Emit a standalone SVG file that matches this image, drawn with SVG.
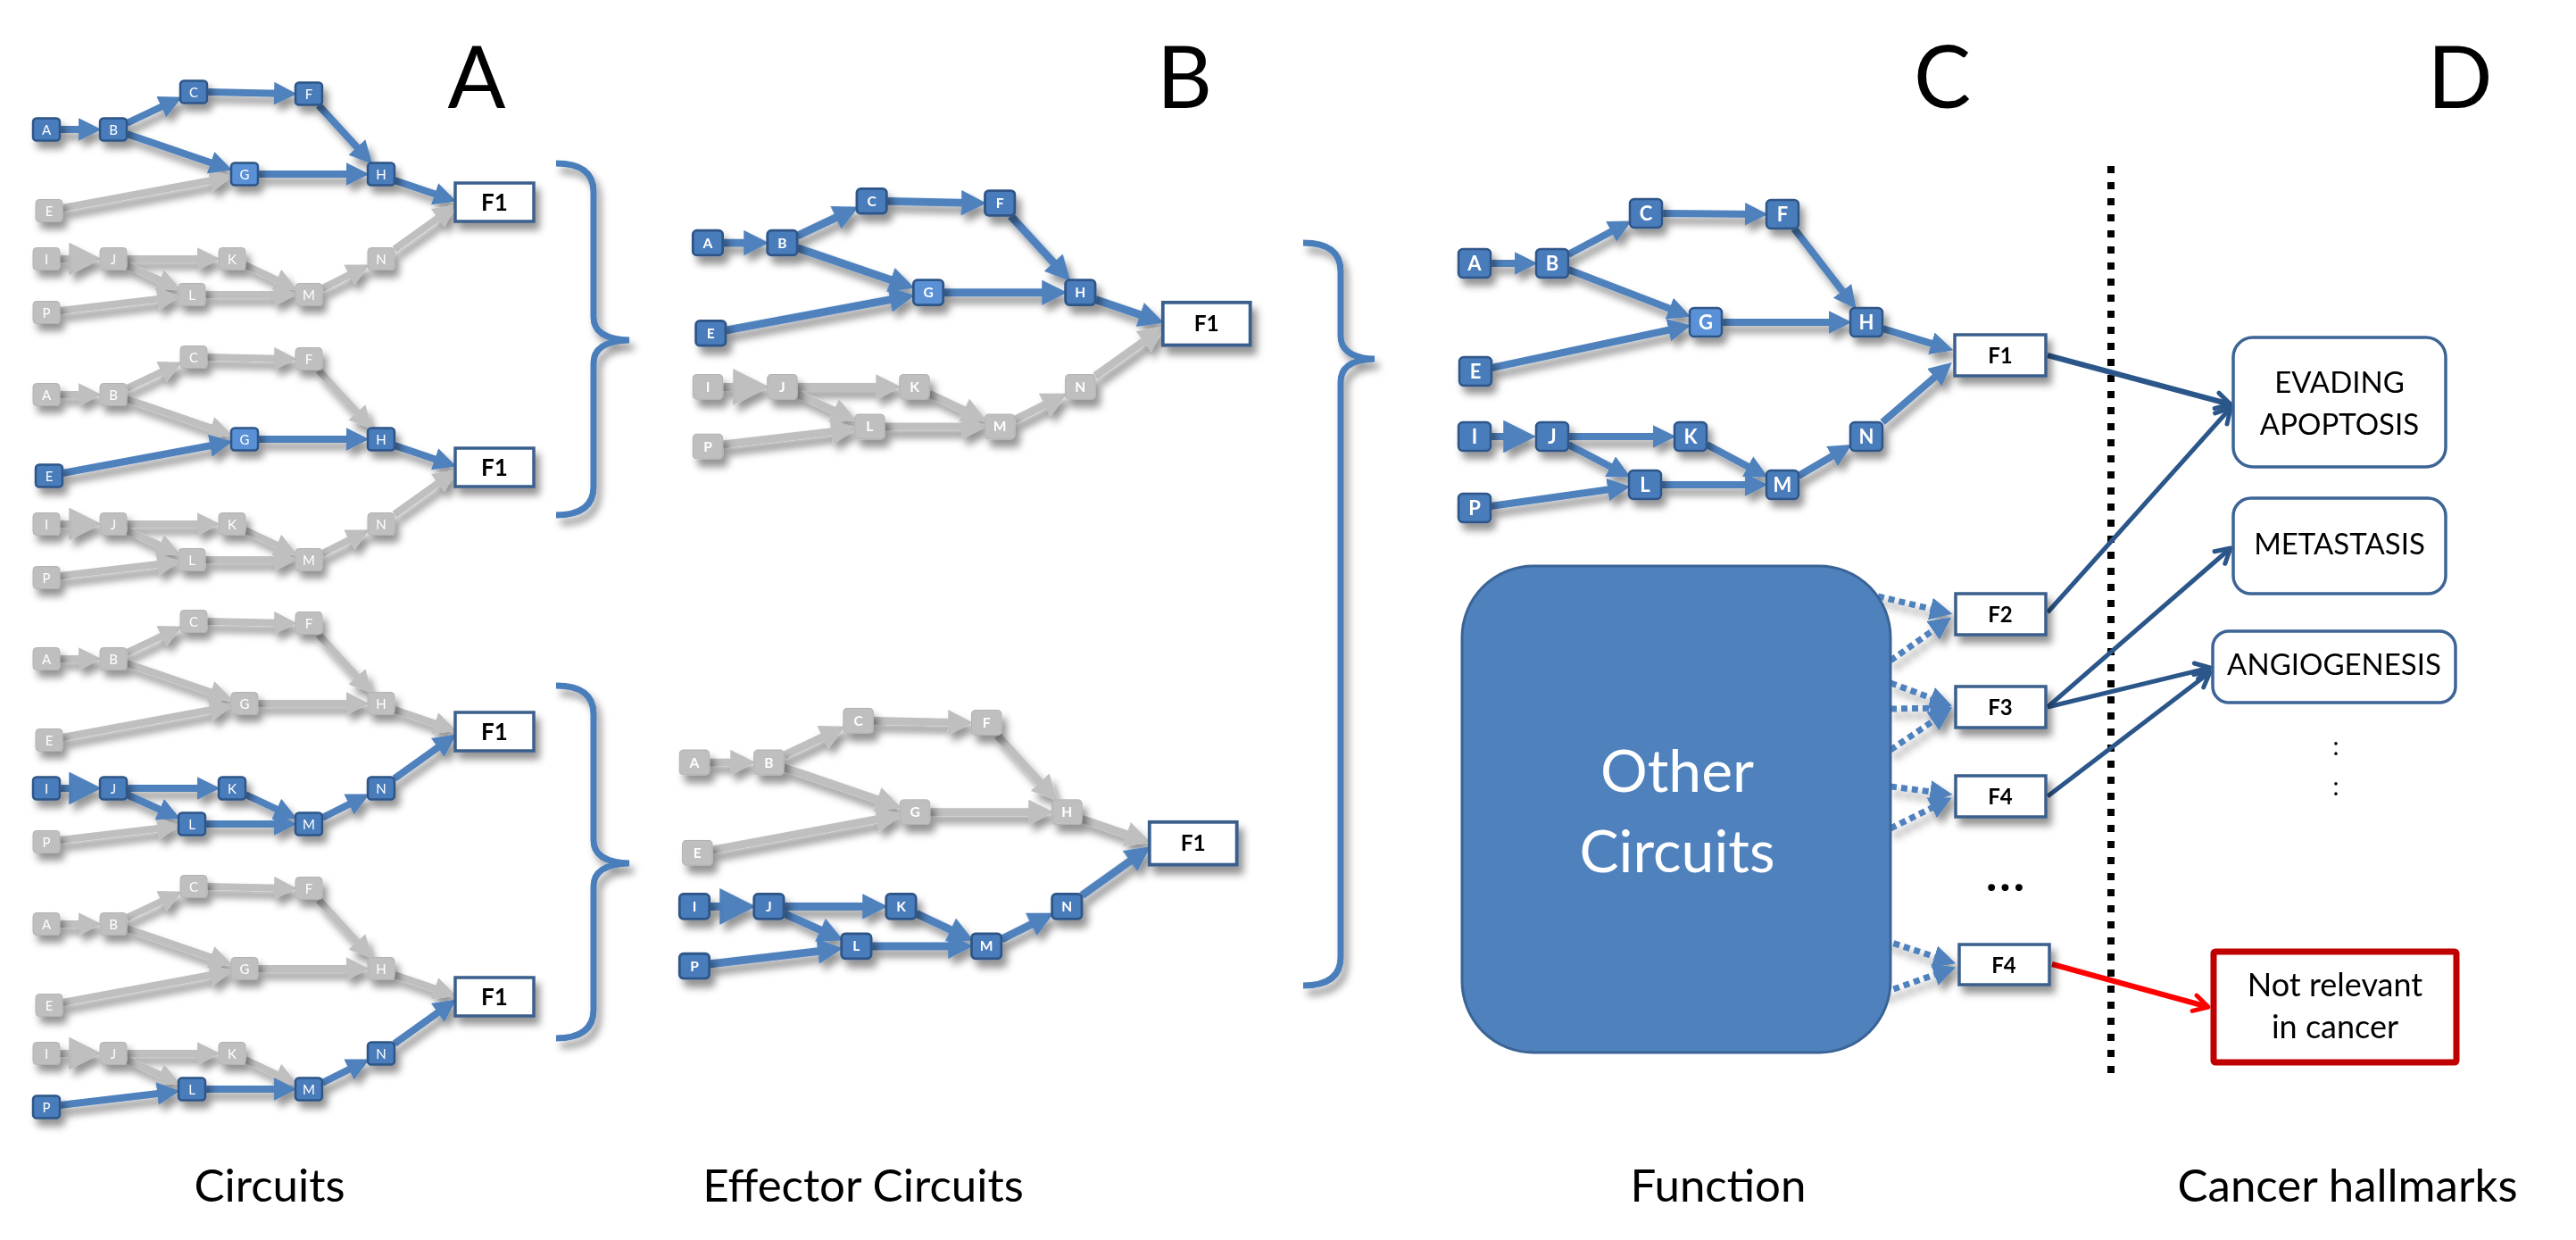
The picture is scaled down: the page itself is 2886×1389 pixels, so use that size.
<svg xmlns="http://www.w3.org/2000/svg" width="2886" height="1389" viewBox="0 0 2886 1389">
<style>
text{font-family:Lato,"Open Sans","Liberation Sans",sans-serif}
.n text{fill:#fff;stroke:none;text-anchor:middle}
.nb{fill:#4a7bbb;stroke:#2d5587;stroke-width:2.5}
.nl{fill:#5a91d6;stroke:#2d5587;stroke-width:2.5}
.ng{fill:#bfbfbf;stroke:#b3b3b3;stroke-width:1}
.f rect{fill:#fff;stroke:#3b5f8c;stroke-width:3.5}
.f text{fill:#000;stroke:none;text-anchor:middle;font-weight:700}
.ta text{font-size:15px}
.ta .f text{font-size:26px}
.tb text{font-size:14px;font-weight:700}
.tb .f text{font-size:22px}
.tc text{font-size:22px;font-weight:700}
.tc .f text{font-size:24px}
.cg line{stroke:#bfbfbf;stroke-width:8;marker-end:url(#mg)}
.cb line{stroke:#4f81bd;stroke-width:8;marker-end:url(#mb)}
.cg line.big{marker-end:url(#mgB)}
.cb line.big{marker-end:url(#mbB)}
.cd line{stroke:#4f81bd;stroke-width:7;stroke-dasharray:7 5;marker-end:url(#md)}
.ch line{stroke:#2b5689;stroke-width:5;marker-end:url(#mo)}
.cr line{stroke:#ff0000;stroke-width:6;marker-end:url(#mr)}
.brace{fill:none;stroke:#4a7ebb;stroke-width:7}
.hm rect{fill:#fff;stroke:#3d6496;stroke-width:3.5}
.hm text{fill:#000;font-size:33px;text-anchor:middle}
.title{font-size:96px;fill:#000;text-anchor:middle}
.label{font-size:51px;fill:#000;text-anchor:middle}
</style>
<defs>
<filter id="sh" x="-20%" y="-20%" width="140%" height="140%"><feDropShadow dx="5" dy="8" stdDeviation="4" flood-color="#000" flood-opacity="0.42"/></filter>
<marker id="mb" viewBox="0 0 10 10" refX="7" refY="5" markerWidth="3.2" markerHeight="3.2" orient="auto"><path d="M0,0L10,5L0,10z" fill="#4f81bd"/></marker>
<marker id="mg" viewBox="0 0 10 10" refX="7" refY="5" markerWidth="3.2" markerHeight="3.2" orient="auto"><path d="M0,0L10,5L0,10z" fill="#bfbfbf"/></marker>
<marker id="mbB" viewBox="0 0 10 10" refX="7" refY="5" markerWidth="4.6" markerHeight="4.6" orient="auto"><path d="M0,0L10,5L0,10z" fill="#4f81bd"/></marker>
<marker id="mgB" viewBox="0 0 10 10" refX="7" refY="5" markerWidth="4.6" markerHeight="4.6" orient="auto"><path d="M0,0L10,5L0,10z" fill="#bfbfbf"/></marker>
<marker id="md" viewBox="0 0 10 10" refX="7" refY="5" markerWidth="3.6" markerHeight="3.6" orient="auto"><path d="M0,0L10,5L0,10z" fill="#4f81bd"/></marker>
<marker id="mo" viewBox="0 0 24 24" refX="21" refY="12" markerWidth="24" markerHeight="24" orient="auto" markerUnits="userSpaceOnUse"><path d="M5,3L21,12L5,21" fill="none" stroke="#2b5689" stroke-width="5" stroke-linecap="round" stroke-linejoin="round"/></marker>
<marker id="mr" viewBox="0 0 24 24" refX="21" refY="12" markerWidth="24" markerHeight="24" orient="auto" markerUnits="userSpaceOnUse"><path d="M5,3L21,12L5,21" fill="none" stroke="#ff0000" stroke-width="5" stroke-linecap="round" stroke-linejoin="round"/></marker>
<rect id="na" x="-15" y="-12.5" width="30" height="25" rx="4"/>
<rect id="nc" x="-18" y="-16" width="36" height="32" rx="5"/>
</defs>
<rect width="2886" height="1389" fill="#fff"/>

<g id="titles">
<text class="title" x="534" y="121">A</text>
<text class="title" x="1327" y="121">B</text>
<text class="title" x="2176" y="121">C</text>
<text class="title" x="2756" y="121">D</text>
<text class="label" x="302" y="1346">Circuits</text>
<text class="label" x="967" y="1346">Effector Circuits</text>
<text class="label" x="1925" y="1346">Function</text>
<text class="label" x="2630" y="1346">Cancer hallmarks</text>
</g>

<g id="braces" filter="url(#sh)">
<path class="brace" d="M623,183 Q665,183 665,215 L665,355 Q665,380 705,381 Q665,382 665,407 L665,545 Q665,577 623,577"/>
<path class="brace" d="M623,768 Q665,768 665,800 L665,941 Q665,966 705,967 Q665,968 665,993 L665,1131 Q665,1163 623,1163"/>
<path class="brace" d="M1460,272 Q1502,272 1502,304 L1502,376 Q1502,401 1540,402 Q1502,403 1502,428 L1502,1072 Q1502,1104 1460,1104"/>
</g>

<line id="divider" x1="2365" y1="186" x2="2365" y2="1205" stroke="#000" stroke-width="8" stroke-dasharray="8 10"/>

<g id="connectors">
<g filter="url(#sh)">
<!-- A1 -->
<g>
<g class="cg"><line x1="70" y1="233" x2="253" y2="199"/><line class="big" x1="67" y1="290" x2="103" y2="290"/><line x1="142" y1="290" x2="239" y2="290"/><line x1="142" y1="297" x2="195" y2="321"/><line x1="275" y1="297" x2="326" y2="321"/><line x1="230" y1="330" x2="325" y2="330"/><line x1="361" y1="323" x2="407" y2="300"/><line x1="442" y1="279" x2="505" y2="234"/><line x1="67" y1="348" x2="194" y2="333"/></g>
<g class="cb"><line x1="67" y1="145" x2="106" y2="145"/><line x1="142" y1="138" x2="197" y2="112"/><line x1="232" y1="103" x2="325" y2="105"/><line x1="357" y1="118" x2="412" y2="178"/><line x1="142" y1="150" x2="253" y2="188"/><line x1="289" y1="195" x2="406" y2="195"/><line x1="442" y1="202" x2="504" y2="223"/></g>
</g>
<!-- A2 -->
<g transform="translate(0,297)">
<g class="cg"><line x1="67" y1="145" x2="106" y2="145"/><line x1="142" y1="138" x2="197" y2="112"/><line x1="232" y1="103" x2="325" y2="105"/><line x1="357" y1="118" x2="412" y2="178"/><line x1="142" y1="150" x2="253" y2="188"/><line class="big" x1="67" y1="290" x2="103" y2="290"/><line x1="142" y1="290" x2="239" y2="290"/><line x1="142" y1="297" x2="195" y2="321"/><line x1="275" y1="297" x2="326" y2="321"/><line x1="230" y1="330" x2="325" y2="330"/><line x1="361" y1="323" x2="407" y2="300"/><line x1="442" y1="279" x2="505" y2="234"/><line x1="67" y1="348" x2="194" y2="333"/></g>
<g class="cb"><line x1="70" y1="233" x2="253" y2="199"/><line x1="289" y1="195" x2="406" y2="195"/><line x1="442" y1="202" x2="504" y2="223"/></g>
</g>
<!-- A3 -->
<g transform="translate(0,593)">
<g class="cg"><line x1="67" y1="145" x2="106" y2="145"/><line x1="142" y1="138" x2="197" y2="112"/><line x1="232" y1="103" x2="325" y2="105"/><line x1="357" y1="118" x2="412" y2="178"/><line x1="142" y1="150" x2="253" y2="188"/><line x1="70" y1="233" x2="253" y2="199"/><line x1="289" y1="195" x2="406" y2="195"/><line x1="442" y1="202" x2="504" y2="223"/><line x1="67" y1="348" x2="194" y2="333"/></g>
<g class="cb"><line class="big" x1="67" y1="290" x2="103" y2="290"/><line x1="142" y1="290" x2="239" y2="290"/><line x1="142" y1="297" x2="195" y2="321"/><line x1="275" y1="297" x2="326" y2="321"/><line x1="230" y1="330" x2="325" y2="330"/><line x1="361" y1="323" x2="407" y2="300"/><line x1="442" y1="279" x2="505" y2="234"/></g>
</g>
<!-- A4 -->
<g transform="translate(0,890)">
<g class="cg"><line x1="67" y1="145" x2="106" y2="145"/><line x1="142" y1="138" x2="197" y2="112"/><line x1="232" y1="103" x2="325" y2="105"/><line x1="357" y1="118" x2="412" y2="178"/><line x1="142" y1="150" x2="253" y2="188"/><line x1="70" y1="233" x2="253" y2="199"/><line x1="289" y1="195" x2="406" y2="195"/><line x1="442" y1="202" x2="504" y2="223"/><line class="big" x1="67" y1="290" x2="103" y2="290"/><line x1="142" y1="290" x2="239" y2="290"/><line x1="142" y1="297" x2="195" y2="321"/><line x1="275" y1="297" x2="326" y2="321"/></g>
<g class="cb"><line x1="67" y1="348" x2="194" y2="333"/><line x1="230" y1="330" x2="325" y2="330"/><line x1="361" y1="323" x2="407" y2="300"/><line x1="442" y1="279" x2="505" y2="234"/></g>
</g>
<!-- B1 -->
<g transform="translate(735.1,110.6) scale(1.113)">
<g class="cg"><line class="big" x1="67" y1="290" x2="103" y2="290"/><line x1="142" y1="290" x2="239" y2="290"/><line x1="142" y1="297" x2="195" y2="321"/><line x1="275" y1="297" x2="326" y2="321"/><line x1="230" y1="330" x2="325" y2="330"/><line x1="361" y1="323" x2="407" y2="300"/><line x1="442" y1="279" x2="505" y2="234"/><line x1="67" y1="348" x2="194" y2="333"/></g>
<g class="cb"><line x1="67" y1="145" x2="106" y2="145"/><line x1="142" y1="138" x2="197" y2="112"/><line x1="232" y1="103" x2="325" y2="105"/><line x1="357" y1="118" x2="412" y2="178"/><line x1="142" y1="150" x2="253" y2="188"/><line x1="70" y1="233" x2="253" y2="199"/><line x1="289" y1="195" x2="406" y2="195"/><line x1="442" y1="202" x2="504" y2="223"/></g>
</g>
<!-- B2 -->
<g transform="translate(720.1,692.6) scale(1.113)">
<g class="cg"><line x1="67" y1="145" x2="106" y2="145"/><line x1="142" y1="138" x2="197" y2="112"/><line x1="232" y1="103" x2="325" y2="105"/><line x1="357" y1="118" x2="412" y2="178"/><line x1="142" y1="150" x2="253" y2="188"/><line x1="70" y1="233" x2="253" y2="199"/><line x1="289" y1="195" x2="406" y2="195"/><line x1="442" y1="202" x2="504" y2="223"/></g>
<g class="cb"><line class="big" x1="67" y1="290" x2="103" y2="290"/><line x1="142" y1="290" x2="239" y2="290"/><line x1="142" y1="297" x2="195" y2="321"/><line x1="275" y1="297" x2="326" y2="321"/><line x1="230" y1="330" x2="325" y2="330"/><line x1="361" y1="323" x2="407" y2="300"/><line x1="442" y1="279" x2="505" y2="234"/><line x1="67" y1="348" x2="194" y2="333"/></g>
</g>
<!-- C -->
<g class="cb">
<line x1="1670" y1="295" x2="1715" y2="295"/>
<line x1="1757" y1="285" x2="1821" y2="251"/>
<line x1="1862" y1="239" x2="1973" y2="240"/>
<line x1="2010" y1="256" x2="2075" y2="340"/>
<line x1="1757" y1="302" x2="1887" y2="352"/>
<line x1="1929" y1="361" x2="2067" y2="361"/>
<line x1="2109" y1="368" x2="2181" y2="390"/>
<line x1="1671" y1="412" x2="1887" y2="366"/>
<line class="big" x1="1670" y1="489" x2="1710" y2="489"/>
<line x1="1757" y1="489" x2="1870" y2="489"/>
<line x1="1757" y1="498" x2="1820" y2="531"/>
<line x1="1912" y1="498" x2="1974" y2="531"/>
<line x1="1861" y1="543" x2="1973" y2="543"/>
<line x1="2015" y1="533" x2="2068" y2="502"/>
<line x1="2109" y1="473" x2="2181" y2="411"/>
<line x1="1670" y1="567" x2="1819" y2="546"/>
</g>
<!-- dotted from Other Circuits -->
<g class="cd">
<line x1="2104" y1="668" x2="2180" y2="686"/>
<line x1="2118" y1="740" x2="2180" y2="696"/>
<line x1="2118" y1="765" x2="2180" y2="788"/>
<line x1="2118" y1="794" x2="2180" y2="793"/>
<line x1="2118" y1="840" x2="2180" y2="798"/>
<line x1="2118" y1="881" x2="2180" y2="889"/>
<line x1="2118" y1="928" x2="2180" y2="897"/>
<line x1="2110" y1="1053" x2="2184" y2="1077"/>
<line x1="2110" y1="1112" x2="2184" y2="1086"/>
</g>
</g>
<!-- to hallmarks -->
<g class="ch">
<line x1="2294" y1="398" x2="2499" y2="453" style="stroke-width:6"/>
<line x1="2294" y1="686" x2="2499" y2="457"/>
<line x1="2294" y1="792" x2="2499" y2="614"/>
<line x1="2294" y1="792" x2="2476" y2="748"/>
<line x1="2294" y1="892" x2="2476" y2="753"/>
</g>
<g class="cr"><line x1="2299" y1="1080" x2="2474" y2="1128"/></g>
</g>

<g id="nodes">
<!-- Panel A circuit 1 -->
<g id="circuitA1" class="ta" filter="url(#sh)">
<g id="a1-A" class="n nb" transform="translate(52,145)"><use href="#na"/><text y="5.5">A</text></g>
<g id="a1-B" class="n nb" transform="translate(127,145)"><use href="#na"/><text y="5.5">B</text></g>
<g id="a1-C" class="n nb" transform="translate(217,103)"><use href="#na"/><text y="5.5">C</text></g>
<g id="a1-F" class="n nb" transform="translate(346,105)"><use href="#na"/><text y="5.5">F</text></g>
<g id="a1-G" class="n nl" transform="translate(274,195)"><use href="#na"/><text y="5.5">G</text></g>
<g id="a1-H" class="n nb" transform="translate(427,195)"><use href="#na"/><text y="5.5">H</text></g>
<g id="a1-E" class="n ng" transform="translate(55,236)"><use href="#na"/><text y="5.5">E</text></g>
<g id="a1-I" class="n ng" transform="translate(52,290)"><use href="#na"/><text y="5.5">I</text></g>
<g id="a1-J" class="n ng" transform="translate(127,290)"><use href="#na"/><text y="5.5">J</text></g>
<g id="a1-K" class="n ng" transform="translate(260,290)"><use href="#na"/><text y="5.5">K</text></g>
<g id="a1-L" class="n ng" transform="translate(215,330)"><use href="#na"/><text y="5.5">L</text></g>
<g id="a1-M" class="n ng" transform="translate(346,330)"><use href="#na"/><text y="5.5">M</text></g>
<g id="a1-N" class="n ng" transform="translate(427,290)"><use href="#na"/><text y="5.5">N</text></g>
<g id="a1-P" class="n ng" transform="translate(52,350)"><use href="#na"/><text y="5.5">P</text></g>
<g id="a1-F1" class="f"><rect x="510" y="205" width="88" height="43"/><text x="554" y="236">F1</text></g>
</g>
<!-- Panel A circuit 2 -->
<g id="circuitA2" class="ta" filter="url(#sh)" transform="translate(0,297)">
<g id="a2-A" class="n ng" transform="translate(52,145)"><use href="#na"/><text y="5.5">A</text></g>
<g id="a2-B" class="n ng" transform="translate(127,145)"><use href="#na"/><text y="5.5">B</text></g>
<g id="a2-C" class="n ng" transform="translate(217,103)"><use href="#na"/><text y="5.5">C</text></g>
<g id="a2-F" class="n ng" transform="translate(346,105)"><use href="#na"/><text y="5.5">F</text></g>
<g id="a2-G" class="n nl" transform="translate(274,195)"><use href="#na"/><text y="5.5">G</text></g>
<g id="a2-H" class="n nb" transform="translate(427,195)"><use href="#na"/><text y="5.5">H</text></g>
<g id="a2-E" class="n nb" transform="translate(55,236)"><use href="#na"/><text y="5.5">E</text></g>
<g id="a2-I" class="n ng" transform="translate(52,290)"><use href="#na"/><text y="5.5">I</text></g>
<g id="a2-J" class="n ng" transform="translate(127,290)"><use href="#na"/><text y="5.5">J</text></g>
<g id="a2-K" class="n ng" transform="translate(260,290)"><use href="#na"/><text y="5.5">K</text></g>
<g id="a2-L" class="n ng" transform="translate(215,330)"><use href="#na"/><text y="5.5">L</text></g>
<g id="a2-M" class="n ng" transform="translate(346,330)"><use href="#na"/><text y="5.5">M</text></g>
<g id="a2-N" class="n ng" transform="translate(427,290)"><use href="#na"/><text y="5.5">N</text></g>
<g id="a2-P" class="n ng" transform="translate(52,350)"><use href="#na"/><text y="5.5">P</text></g>
<g id="a2-F1" class="f"><rect x="510" y="205" width="88" height="43"/><text x="554" y="236">F1</text></g>
</g>
<!-- Panel A circuit 3 -->
<g id="circuitA3" class="ta" filter="url(#sh)" transform="translate(0,593)">
<g id="a3-A" class="n ng" transform="translate(52,145)"><use href="#na"/><text y="5.5">A</text></g>
<g id="a3-B" class="n ng" transform="translate(127,145)"><use href="#na"/><text y="5.5">B</text></g>
<g id="a3-C" class="n ng" transform="translate(217,103)"><use href="#na"/><text y="5.5">C</text></g>
<g id="a3-F" class="n ng" transform="translate(346,105)"><use href="#na"/><text y="5.5">F</text></g>
<g id="a3-G" class="n ng" transform="translate(274,195)"><use href="#na"/><text y="5.5">G</text></g>
<g id="a3-H" class="n ng" transform="translate(427,195)"><use href="#na"/><text y="5.5">H</text></g>
<g id="a3-E" class="n ng" transform="translate(55,236)"><use href="#na"/><text y="5.5">E</text></g>
<g id="a3-I" class="n nb" transform="translate(52,290)"><use href="#na"/><text y="5.5">I</text></g>
<g id="a3-J" class="n nb" transform="translate(127,290)"><use href="#na"/><text y="5.5">J</text></g>
<g id="a3-K" class="n nb" transform="translate(260,290)"><use href="#na"/><text y="5.5">K</text></g>
<g id="a3-L" class="n nb" transform="translate(215,330)"><use href="#na"/><text y="5.5">L</text></g>
<g id="a3-M" class="n nb" transform="translate(346,330)"><use href="#na"/><text y="5.5">M</text></g>
<g id="a3-N" class="n nb" transform="translate(427,290)"><use href="#na"/><text y="5.5">N</text></g>
<g id="a3-P" class="n ng" transform="translate(52,350)"><use href="#na"/><text y="5.5">P</text></g>
<g id="a3-F1" class="f"><rect x="510" y="205" width="88" height="43"/><text x="554" y="236">F1</text></g>
</g>
<!-- Panel A circuit 4 -->
<g id="circuitA4" class="ta" filter="url(#sh)" transform="translate(0,890)">
<g id="a4-A" class="n ng" transform="translate(52,145)"><use href="#na"/><text y="5.5">A</text></g>
<g id="a4-B" class="n ng" transform="translate(127,145)"><use href="#na"/><text y="5.5">B</text></g>
<g id="a4-C" class="n ng" transform="translate(217,103)"><use href="#na"/><text y="5.5">C</text></g>
<g id="a4-F" class="n ng" transform="translate(346,105)"><use href="#na"/><text y="5.5">F</text></g>
<g id="a4-G" class="n ng" transform="translate(274,195)"><use href="#na"/><text y="5.5">G</text></g>
<g id="a4-H" class="n ng" transform="translate(427,195)"><use href="#na"/><text y="5.5">H</text></g>
<g id="a4-E" class="n ng" transform="translate(55,236)"><use href="#na"/><text y="5.5">E</text></g>
<g id="a4-I" class="n ng" transform="translate(52,290)"><use href="#na"/><text y="5.5">I</text></g>
<g id="a4-J" class="n ng" transform="translate(127,290)"><use href="#na"/><text y="5.5">J</text></g>
<g id="a4-K" class="n ng" transform="translate(260,290)"><use href="#na"/><text y="5.5">K</text></g>
<g id="a4-L" class="n nb" transform="translate(215,330)"><use href="#na"/><text y="5.5">L</text></g>
<g id="a4-M" class="n nb" transform="translate(346,330)"><use href="#na"/><text y="5.5">M</text></g>
<g id="a4-N" class="n nb" transform="translate(427,290)"><use href="#na"/><text y="5.5">N</text></g>
<g id="a4-P" class="n nb" transform="translate(52,350)"><use href="#na"/><text y="5.5">P</text></g>
<g id="a4-F1" class="f"><rect x="510" y="205" width="88" height="43"/><text x="554" y="236">F1</text></g>
</g>
<!-- Panel B circuit 1 -->
<g id="circuitB1" class="tb" filter="url(#sh)" transform="translate(735.1,110.6) scale(1.113)">
<g id="b1-A" class="n nb" transform="translate(52,145)"><use href="#na"/><text y="5">A</text></g>
<g id="b1-B" class="n nb" transform="translate(127,145)"><use href="#na"/><text y="5">B</text></g>
<g id="b1-C" class="n nb" transform="translate(217,103)"><use href="#na"/><text y="5">C</text></g>
<g id="b1-F" class="n nb" transform="translate(346,105)"><use href="#na"/><text y="5">F</text></g>
<g id="b1-G" class="n nl" transform="translate(274,195)"><use href="#na"/><text y="5">G</text></g>
<g id="b1-H" class="n nb" transform="translate(427,195)"><use href="#na"/><text y="5">H</text></g>
<g id="b1-E" class="n nb" transform="translate(55,236)"><use href="#na"/><text y="5">E</text></g>
<g id="b1-I" class="n ng" transform="translate(52,290)"><use href="#na"/><text y="5">I</text></g>
<g id="b1-J" class="n ng" transform="translate(127,290)"><use href="#na"/><text y="5">J</text></g>
<g id="b1-K" class="n ng" transform="translate(260,290)"><use href="#na"/><text y="5">K</text></g>
<g id="b1-L" class="n ng" transform="translate(215,330)"><use href="#na"/><text y="5">L</text></g>
<g id="b1-M" class="n ng" transform="translate(346,330)"><use href="#na"/><text y="5">M</text></g>
<g id="b1-N" class="n ng" transform="translate(427,290)"><use href="#na"/><text y="5">N</text></g>
<g id="b1-P" class="n ng" transform="translate(52,350)"><use href="#na"/><text y="5">P</text></g>
<g id="b1-F1" class="f"><rect x="510" y="205" width="88" height="43"/><text x="554" y="234">F1</text></g>
</g>
<!-- Panel B circuit 2 -->
<g id="circuitB2" class="tb" filter="url(#sh)" transform="translate(720.1,692.6) scale(1.113)">
<g id="b2-A" class="n ng" transform="translate(52,145)"><use href="#na"/><text y="5">A</text></g>
<g id="b2-B" class="n ng" transform="translate(127,145)"><use href="#na"/><text y="5">B</text></g>
<g id="b2-C" class="n ng" transform="translate(217,103)"><use href="#na"/><text y="5">C</text></g>
<g id="b2-F" class="n ng" transform="translate(346,105)"><use href="#na"/><text y="5">F</text></g>
<g id="b2-G" class="n ng" transform="translate(274,195)"><use href="#na"/><text y="5">G</text></g>
<g id="b2-H" class="n ng" transform="translate(427,195)"><use href="#na"/><text y="5">H</text></g>
<g id="b2-E" class="n ng" transform="translate(55,236)"><use href="#na"/><text y="5">E</text></g>
<g id="b2-I" class="n nb" transform="translate(52,290)"><use href="#na"/><text y="5">I</text></g>
<g id="b2-J" class="n nb" transform="translate(127,290)"><use href="#na"/><text y="5">J</text></g>
<g id="b2-K" class="n nb" transform="translate(260,290)"><use href="#na"/><text y="5">K</text></g>
<g id="b2-L" class="n nb" transform="translate(215,330)"><use href="#na"/><text y="5">L</text></g>
<g id="b2-M" class="n nb" transform="translate(346,330)"><use href="#na"/><text y="5">M</text></g>
<g id="b2-N" class="n nb" transform="translate(427,290)"><use href="#na"/><text y="5">N</text></g>
<g id="b2-P" class="n nb" transform="translate(52,350)"><use href="#na"/><text y="5">P</text></g>
<g id="b2-F1" class="f"><rect x="510" y="205" width="88" height="43"/><text x="554" y="234">F1</text></g>
</g>
<!-- Panel C circuit -->
<g id="circuitC" class="tc" filter="url(#sh)">
<g id="c-A" class="n nb" transform="translate(1652,295)"><use href="#nc"/><text y="8">A</text></g>
<g id="c-B" class="n nb" transform="translate(1739,295)"><use href="#nc"/><text y="8">B</text></g>
<g id="c-C" class="n nb" transform="translate(1844,239)"><use href="#nc"/><text y="8">C</text></g>
<g id="c-F" class="n nb" transform="translate(1997,240)"><use href="#nc"/><text y="8">F</text></g>
<g id="c-G" class="n nl" transform="translate(1911,361)"><use href="#nc"/><text y="8">G</text></g>
<g id="c-H" class="n nb" transform="translate(2091,361)"><use href="#nc"/><text y="8">H</text></g>
<g id="c-E" class="n nb" transform="translate(1653,416)"><use href="#nc"/><text y="8">E</text></g>
<g id="c-I" class="n nb" transform="translate(1652,489)"><use href="#nc"/><text y="8">I</text></g>
<g id="c-J" class="n nb" transform="translate(1739,489)"><use href="#nc"/><text y="8">J</text></g>
<g id="c-K" class="n nb" transform="translate(1894,489)"><use href="#nc"/><text y="8">K</text></g>
<g id="c-L" class="n nb" transform="translate(1843,543)"><use href="#nc"/><text y="8">L</text></g>
<g id="c-M" class="n nb" transform="translate(1997,543)"><use href="#nc"/><text y="8">M</text></g>
<g id="c-N" class="n nb" transform="translate(2091,489)"><use href="#nc"/><text y="8">N</text></g>
<g id="c-P" class="n nb" transform="translate(1652,569)"><use href="#nc"/><text y="8">P</text></g>
<g id="c-F1" class="f"><rect x="2190" y="375" width="102" height="46"/><text x="2241" y="407">F1</text></g>
<g id="c-F2" class="f"><rect x="2191" y="665" width="101" height="46"/><text x="2241" y="697">F2</text></g>
<g id="c-F3" class="f"><rect x="2191" y="769" width="101" height="46"/><text x="2241" y="801">F3</text></g>
<g id="c-F4" class="f"><rect x="2191" y="869" width="101" height="46"/><text x="2241" y="901">F4</text></g>
<g id="c-F4b" class="f"><rect x="2195" y="1058" width="101" height="45"/><text x="2245" y="1090">F4</text></g>
</g>
<g id="other-circuits">
<rect x="1638" y="634" width="480" height="545" rx="80" fill="#4f81bd" stroke="#3a6496" stroke-width="3"/>
<text x="1879" y="887" font-size="66" fill="#fff" text-anchor="middle">Other</text>
<text x="1879" y="977" font-size="66" fill="#fff" text-anchor="middle">Circuits</text>
</g>
<g id="ellipsis"><text x="2248" y="998" font-size="52" font-weight="700" text-anchor="middle" letter-spacing="3">...</text></g>
<g id="hm-evading" class="hm"><rect x="2502" y="378" width="238" height="145" rx="22"/><text x="2621" y="440">EVADING</text><text x="2621" y="487">APOPTOSIS</text></g>
<g id="hm-metastasis" class="hm"><rect x="2502" y="558" width="238" height="107" rx="20"/><text x="2621" y="621">METASTASIS</text></g>
<g id="hm-angiogenesis" class="hm"><rect x="2479" y="707" width="272" height="80" rx="18"/><text x="2615" y="756">ANGIOGENESIS</text></g>
<g id="hm-dots" class="hm"><text x="2617" y="846" font-size="28" style="font-size:28px">:</text><text x="2617" y="891" style="font-size:28px">:</text></g>
<g id="hm-notrelevant" class="hm"><rect x="2480" y="1066" width="272" height="124" style="stroke:#c00000;stroke-width:7" rx="2"/><text x="2616" y="1116" style="font-size:36px">Not relevant</text><text x="2616" y="1163" style="font-size:36px">in cancer</text></g>
</g>
</svg>
